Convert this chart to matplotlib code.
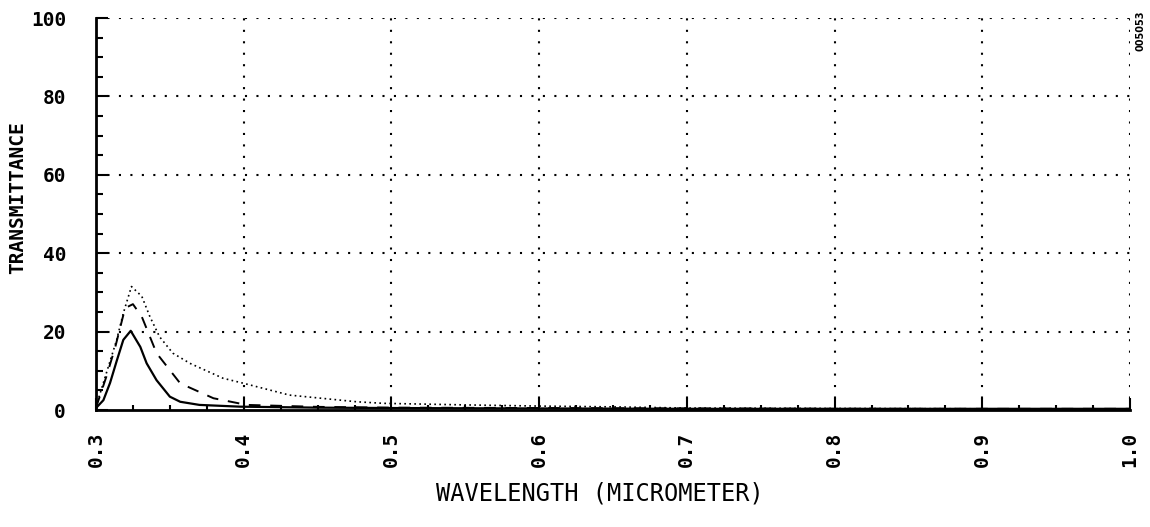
import matplotlib
matplotlib.use("Agg")
import matplotlib.pyplot as plt
from matplotlib.ticker import MultipleLocator

# Data
wl_solid = [0.300, 0.305, 0.3095, 0.314, 0.3185, 0.3235, 0.330, 0.3343, 0.341, 0.350, 0.357, 0.370, 0.3975, 0.45, 0.50, 0.60, 0.70, 0.80, 0.90, 1.00]
t_solid = [0.5, 2.5, 6.9, 12.5, 17.9, 20.2, 16.1, 11.9, 7.6, 3.4, 2.1, 1.3, 0.85, 0.6, 0.5, 0.4, 0.3, 0.3, 0.3, 0.3]

wl_dash = [0.300, 0.307, 0.313, 0.3197, 0.325, 0.331, 0.341, 0.357, 0.3795, 0.402, 0.45, 0.50, 0.60, 0.70, 0.80, 0.90, 1.00]
t_dash = [0.6, 8.5, 16.0, 26.0, 27.0, 23.8, 14.5, 6.8, 3.0, 1.3, 0.8, 0.6, 0.5, 0.4, 0.3, 0.3, 0.3]

wl_dot = [0.300, 0.307, 0.314, 0.3185, 0.324, 0.331, 0.3365, 0.343, 0.352, 0.3636, 0.386, 0.400, 0.431, 0.4765, 0.4945, 0.55, 0.60, 0.65, 0.70, 0.80, 0.90, 1.00]
t_dot = [0.8, 9.4, 17.9, 24.7, 31.5, 29.0, 23.8, 18.7, 14.5, 11.9, 8.1, 6.8, 3.8, 2.1, 1.7, 1.3, 1.0, 0.8, 0.5, 0.4, 0.3, 0.3]

x_ticks = [0.3, 0.4, 0.5, 0.6, 0.7, 0.8, 0.9, 1.0]
x_labels = ["0.3", "0.4", "0.5", "0.6", "0.7", "0.8", "0.9", "1.0"]
y_ticks = [0, 20, 40, 60, 80, 100]
y_labels = ["0", "20", "40", "60", "80", "100"]

font = "DejaVu Sans Mono"

fig = plt.figure(figsize=(11.5, 5.27), dpi=100)
ax = fig.add_axes([96/1150, 1 - 410/527, (1130-96)/1150, (410-18)/527])

ax.plot(wl_solid, t_solid, color="black", lw=1.6, ls="-")
ax.plot(wl_dash, t_dash, color="black", lw=1.4, ls=(0, (6, 5)))
ax.plot(wl_dot, t_dot, color="black", lw=1.2, ls=(0, (1, 2)))

ax.set_xlim(0.3, 1.0)
ax.set_ylim(0, 100)

for y in [20, 40, 60, 80, 100]:
    ax.axhline(y, color="black", lw=1.5, ls=(0, (1, 4.5)), zorder=0)
for x in [0.4, 0.5, 0.6, 0.7, 0.8, 0.9, 1.0]:
    ax.axvline(x, color="black", lw=1.5, ls=(0, (1, 4.5)), zorder=0)

ax.spines["top"].set_visible(False)
ax.spines["right"].set_visible(False)
ax.spines["left"].set_linewidth(2)
ax.spines["bottom"].set_linewidth(2)

ax.set_xticks(x_ticks)
ax.set_xticklabels(x_labels, rotation=90, fontfamily=font, fontsize=14, fontweight="bold")
ax.set_yticks(y_ticks)
ax.set_yticklabels(y_labels, fontfamily=font, fontsize=14, fontweight="bold")
ax.xaxis.set_minor_locator(MultipleLocator(0.025))
ax.yaxis.set_minor_locator(MultipleLocator(5))
ax.tick_params(axis="both", which="both", direction="in", width=1.5, color="black")
ax.tick_params(axis="x", which="major", length=8.6, pad=16)
ax.tick_params(axis="x", which="minor", length=3.6)
ax.tick_params(axis="y", which="major", length=8.6, pad=21.6)
ax.tick_params(axis="y", which="minor", length=5)

ax.set_ylabel("TRANSMITTANCE", fontfamily=font, fontsize=14, fontweight="bold")
ax.yaxis.set_label_coords(-78/1034, 1 - (198 - 18)/392)
ax.yaxis.label.set_va("center")
fig.text(600/1150, 1 - 493/527, "WAVELENGTH (MICROMETER)", fontfamily=font, fontsize=17,
         ha="center", va="center")
fig.text(1141/1150, 1 - 31/527, "005053", rotation=90, fontsize=7, fontweight="bold",
         ha="center", va="center")

fig.savefig("out.png", dpi=100, facecolor="white")
